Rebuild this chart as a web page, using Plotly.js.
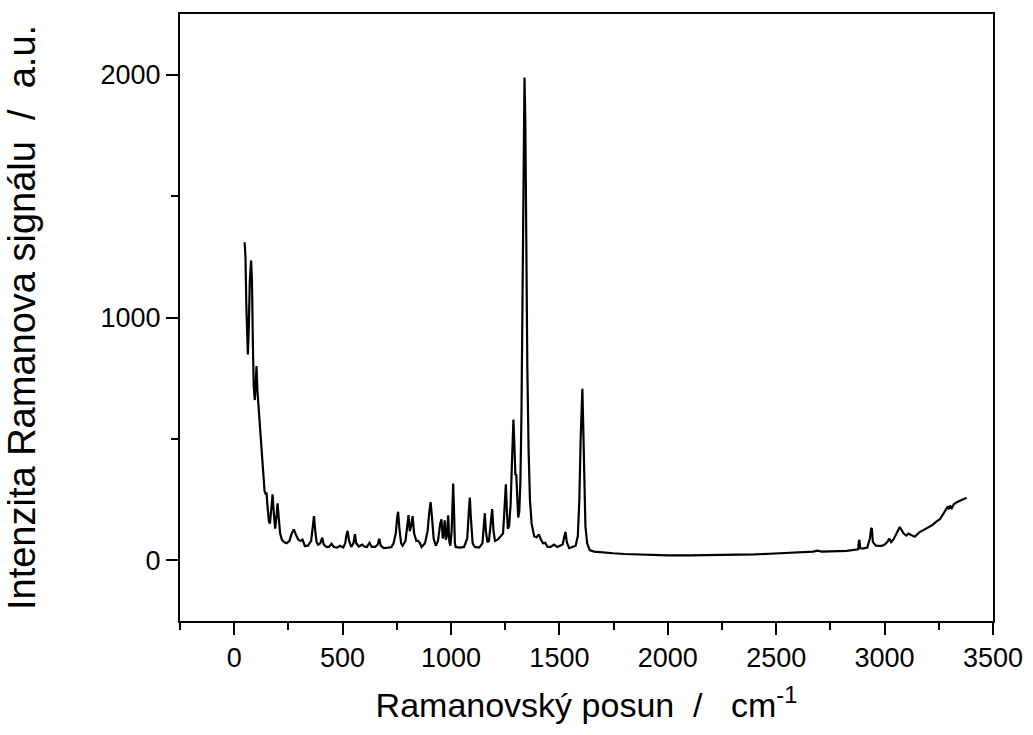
<!DOCTYPE html>
<html>
<head>
<meta charset="utf-8">
<script src="https://cdn.plot.ly/plotly-3.0.1.min.js"></script>
<style>html,body{margin:0;padding:0;background:#fff;}#chart{width:1033px;height:735px;}</style>
</head>
<body>
<div id="chart"></div>
<script>
const ramanShift = [
  48,52,56,60,63,67,72,78,82,86,90,95,100,103,107,112,117,121,125,130,135,140,146,149,153,160,165,170,177,183,189,195,200,206,212,220,230,242,255,265,275,285,295,305,315,326,340,355,362,368,374,380,387,397,406,413,425,437,449,460,475,488,503,512,518,523,530,540,550,557,563,575,590,600,612,624,635,650,662,669,676,690,710,725,735,745,752,756,762,770,777,790,798,804,810,816,823,830,840,848,856,864,880,892,900,906,912,920,930,940,950,956,962,966,971,976,981,987,992,997,1003,1007,1010,1014,1018,1022,1040,1060,1075,1082,1087,1092,1100,1110,1130,1145,1152,1156,1161,1168,1175,1183,1190,1196,1203,1215,1230,1240,1246,1250,1253,1257,1262,1268,1275,1281,1288,1293,1297,1301,1305,1310,1315,1320,1325,1330,1334,1339,1343,1347,1352,1358,1364,1372,1384,1395,1405,1415,1425,1435,1445,1460,1475,1490,1500,1515,1522,1528,1534,1545,1560,1575,1585,1592,1598,1603,1606,1610,1614,1620,1628,1640,1660,1700,1748,1800,1917,2000,2100,2255,2400,2517,2600,2670,2690,2710,2825,2870,2878,2881,2884,2887,2900,2920,2932,2938,2941,2946,2960,2986,3000,3012,3017,3022,3030,3040,3055,3065,3070,3078,3088,3100,3110,3120,3139,3160,3180,3200,3220,3240,3255,3270,3286,3292,3297,3302,3310,3320,3335,3350,3365,3378
];
const intensity = [
  1310,1250,1050,870,848,950,1150,1235,1150,900,720,660,790,800,700,640,540,520,470,400,330,285,270,280,230,160,152,200,272,190,130,180,235,170,110,85,75,70,80,110,127,105,86,80,85,59,60,80,130,182,120,75,64,70,93,65,55,55,68,55,52,60,53,70,105,121,80,55,70,108,70,57,65,57,55,72,55,55,65,89,60,50,52,55,70,110,180,200,130,70,60,80,140,186,120,140,182,110,80,80,72,55,70,120,200,240,180,90,60,80,150,169,90,110,165,85,100,185,80,60,120,260,316,200,70,55,52,55,90,200,258,170,70,55,52,70,150,194,120,75,80,150,211,120,80,85,100,110,200,300,313,220,130,140,230,400,580,460,350,354,250,176,200,320,600,1100,1650,1988,1800,1300,800,450,251,150,98,95,107,85,70,72,55,55,65,55,60,65,95,117,75,50,55,60,100,250,500,700,706,550,300,140,70,42,36,32,29,26,21,20,20,21,24,29,32,36,40,36,39,44,45,75,84,50,48,52,90,130,133,75,60,59,65,75,80,89,75,85,110,130,137,125,110,102,110,105,97,115,125,135,145,160,169,190,217,222,210,225,215,232,240,245,252,258
];
const xTickVals = [0,500,1000,1500,2000,2500,3000,3500];
const yTickVals = [0,1000,2000];

const fontFam = '"Liberation Sans", Arial, sans-serif';
const trace = {
  x: ramanShift, y: intensity, type: 'scatter', mode: 'lines',
  line: {color: '#000', width: 2.2}, hoverinfo: 'skip'
};
const layout = {
  width: 1033, height: 735,
  margin: {l: 180, r: 40, t: 14, b: 114},
  paper_bgcolor: '#fff', plot_bgcolor: '#fff',
  showlegend: false,
  font: {family: fontFam, color: '#000'},
  xaxis: {
    range: [-250, 3500], tickvals: xTickVals, ticktext: xTickVals.map(String),
    ticks: 'outside', ticklen: 12, tickwidth: 2, tickcolor: '#000',
    minor: {ticks: 'outside', dtick: 250, tick0: 0, ticklen: 7, tickwidth: 2, tickcolor: '#000'},
    showline: true, linewidth: 2, linecolor: '#000', mirror: true,
    showgrid: false, zeroline: false,
    tickfont: {size: 27, family: fontFam},
    title: {text: 'Ramanovský posun\u00a0\u00a0/\u00a0\u00a0\u00a0cm<sup>-1</sup>', font: {size: 34, family: fontFam}, standoff: 21},
    automargin: false
  },
  yaxis: {
    range: [-250, 2250], tickvals: yTickVals, ticktext: yTickVals.map(String),
    ticks: 'outside', ticklen: 12, tickwidth: 2, tickcolor: '#000',
    minor: {ticks: 'outside', dtick: 500, tick0: 0, ticklen: 7, tickwidth: 2, tickcolor: '#000'},
    showline: true, linewidth: 2, linecolor: '#000', mirror: true,
    showgrid: false, zeroline: false,
    tickfont: {size: 27, family: fontFam},
    title: {text: 'Intenzita Ramanova signálu\u00a0\u00a0/\u00a0\u00a0a.u.', font: {size: 38, family: fontFam}, standoff: 53},
    automargin: false
  }
};
Plotly.newPlot('chart', [trace], layout, {displayModeBar: false, staticPlot: true});
</script>
</body>
</html>
